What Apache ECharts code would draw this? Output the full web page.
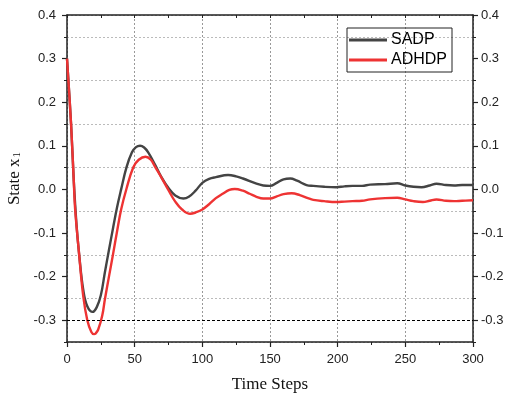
<!DOCTYPE html>
<html>
<head>
<meta charset="utf-8">
<script src="https://cdn.jsdelivr.net/npm/echarts@6/dist/echarts.min.js"></script>
<style>html,body{margin:0;padding:0;background:#fff}#c{width:507px;height:396px}</style>
</head>
<body>
<div id="c"></div>
<script>
const seriesNames = ['SADP', 'ADHDP'];
const sadpT = [0,3,5,7,9,12,15,19,22,25,28,31,34,37,40,44,48,51,54,57,60,65,70,75,80,86,90,95,100,105,110,119,125,130,140,145,150,155,160,165,170,177,182,190,199,205,211,218,224,235,244,250,256,262,268,273,280,286,292,300];
const sadpV = [0.300,0.150,0.020,-0.080,-0.150,-0.230,-0.268,-0.281,-0.270,-0.243,-0.190,-0.139,-0.089,-0.041,0.000,0.051,0.085,0.097,0.100,0.096,0.085,0.057,0.027,0.003,-0.014,-0.021,-0.017,-0.003,0.015,0.024,0.028,0.033,0.030,0.025,0.013,0.009,0.008,0.015,0.023,0.025,0.020,0.010,0.008,0.006,0.005,0.007,0.008,0.008,0.011,0.012,0.014,0.009,0.006,0.005,0.009,0.013,0.010,0.009,0.010,0.010];
const adhdpT = [0,3,5,6,9,12,15,18,20,21,23,26,28,31,34,37,40,44,49,53,58,62,65,70,75,80,85,91,95,100,105,110,115,120,124,130,135,140,145,150,155,160,166,172,178,182,190,199,205,211,218,224,235,244,250,256,263,268,273,280,286,292,300];
const adhdpV = [0.300,0.150,0.020,-0.045,-0.150,-0.245,-0.300,-0.327,-0.332,-0.331,-0.322,-0.290,-0.252,-0.200,-0.149,-0.096,-0.046,0.002,0.051,0.068,0.075,0.068,0.052,0.026,-0.002,-0.028,-0.046,-0.056,-0.053,-0.046,-0.034,-0.020,-0.010,-0.001,0.001,-0.003,-0.010,-0.017,-0.021,-0.021,-0.016,-0.011,-0.009,-0.013,-0.020,-0.024,-0.027,-0.029,-0.028,-0.027,-0.026,-0.023,-0.020,-0.019,-0.023,-0.027,-0.029,-0.026,-0.023,-0.026,-0.027,-0.026,-0.025];
const yMajorTicks = [-0.3,-0.2,-0.1,0.0,0.1,0.2,0.3,0.4];
const refLine = -0.3;
const xRange = [0, 300];
const yRange = [-0.35, 0.4];

const pair = (t, v) => t.map((x, i) => [x, v[i]]);
const axisFont = {fontFamily: 'Liberation Sans, Arial, sans-serif', fontSize: 13, color: '#222'};
const blackLine = {show: true, onZero: false, lineStyle: {color: '#222', width: 1.5}};

const chart = echarts.init(document.getElementById('c'), null, {renderer: 'canvas'});
chart.setOption({
  animation: false,
  backgroundColor: '#fff',
  grid: {left: 67, right: 34, top: 15, bottom: 54, containLabel: false, outerBoundsMode: 'none'},
  legend: {
    orient: 'vertical', left: 347, top: 28,
    data: seriesNames,
    icon: 'rect', itemWidth: 38, itemHeight: 3, itemGap: 4,
    padding: [4, 5, 4, 2],
    borderColor: '#222', borderWidth: 1,
    textStyle: {fontFamily: 'Liberation Sans, Arial, sans-serif', fontSize: 16, color: '#000', padding: [0,0,0,-1]}
  },
  xAxis: [
    {
      type: 'value', min: xRange[0], max: xRange[1], interval: 50, position: 'bottom',
      axisLine: blackLine,
      axisTick: {show: true, length: 5, lineStyle: {color: '#222', width: 1.2}},
      minorTick: {show: true, splitNumber: 2, length: 3, lineStyle: {color: '#222', width: 1}},
      splitLine: {show: true, lineStyle: {color: '#999', width: 1, type: [2, 2]}},
      axisLabel: Object.assign({margin: 11}, axisFont),
      name: 'Time Steps', nameLocation: 'middle', nameGap: 34,
      nameTextStyle: {fontFamily: 'Liberation Serif, Times New Roman, serif', fontSize: 17, color: '#111'}
    },
    {
      type: 'value', min: xRange[0], max: xRange[1], interval: 25, position: 'top',
      axisLine: blackLine,
      axisTick: {show: true, inside: true, length: 3, lineStyle: {color: '#222', width: 1}},
      axisLabel: {show: false}, splitLine: {show: false}
    }
  ],
  yAxis: [
    {
      type: 'value', min: yRange[0], max: yRange[1], interval: 0.1, position: 'left',
      axisLine: blackLine,
      axisTick: {show: true, length: 5, customValues: yMajorTicks, lineStyle: {color: '#222', width: 1.2}},
      axisLabel: Object.assign({margin: 11, customValues: yMajorTicks, formatter: v => v.toFixed(1)}, axisFont),
      splitLine: {show: false},
      name: '{a|State x}{b|1}', nameLocation: 'middle', nameGap: 41,
      nameTextStyle: {
        rich: {
          a: {fontFamily: 'Liberation Serif, Times New Roman, serif', fontSize: 17, color: '#111', lineHeight: 22, verticalAlign: 'bottom'},
          b: {fontFamily: 'Liberation Serif, Times New Roman, serif', fontSize: 11, color: '#111', lineHeight: 22, verticalAlign: 'bottom', padding: [0,0,0,1]}
        }
      }
    },
    {
      type: 'value', min: yRange[0], max: yRange[1], interval: 0.1, position: 'right',
      axisLine: blackLine,
      axisTick: {show: true, length: 5, customValues: yMajorTicks, lineStyle: {color: '#222', width: 1.2}},
      axisLabel: Object.assign({margin: 8, customValues: yMajorTicks, formatter: v => v.toFixed(1)}, axisFont),
      splitLine: {show: false}
    },
    {
      type: 'value', min: yRange[0], max: yRange[1], interval: 0.1, position: 'left',
      axisLine: {show: false, onZero: false},
      axisTick: {show: true, length: 3, lineStyle: {color: '#222', width: 1}},
      axisLabel: {show: false},
      splitLine: {show: true, lineStyle: {color: '#bbb', width: 1, type: [2, 2]}}
    },
    {
      type: 'value', min: yRange[0], max: yRange[1], interval: 0.1, position: 'right',
      axisLine: {show: false, onZero: false},
      axisTick: {show: true, length: 3, lineStyle: {color: '#222', width: 1}},
      axisLabel: {show: false},
      splitLine: {show: false}
    }
  ],
  series: [
    {
      name: seriesNames[0], type: 'line', xAxisIndex: 0, yAxisIndex: 0,
      data: pair(sadpT, sadpV), smooth: 0.4, symbol: 'none',
      lineStyle: {color: '#444', width: 2.4}, itemStyle: {color: '#444'},
      markLine: {
        silent: true, symbol: 'none', label: {show: false},
        lineStyle: {color: '#000', width: 1, type: [3, 2]},
        data: [{yAxis: refLine}]
      },
      z: 3
    },
    {
      name: seriesNames[1], type: 'line', xAxisIndex: 0, yAxisIndex: 0,
      data: pair(adhdpT, adhdpV), smooth: 0.4, symbol: 'none',
      lineStyle: {color: '#ee3333', width: 2.4}, itemStyle: {color: '#ee3333'},
      z: 4
    }
  ]
});
</script>
</body>
</html>
